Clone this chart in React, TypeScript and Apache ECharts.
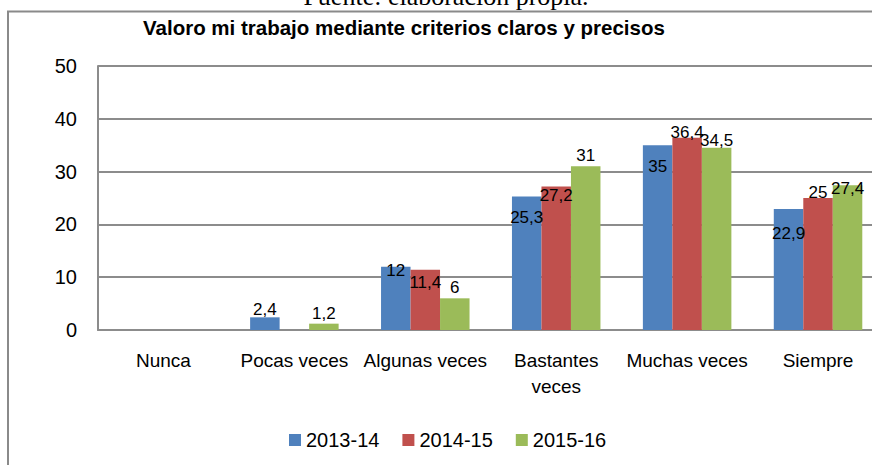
import React, { useEffect, useRef } from "react";
import * as echarts from "echarts";

const categories = ["Nunca", "Pocas veces", "Algunas veces", "Bastantes\nveces", "Muchas veces", "Siempre"];
const seriesNames = ["2013-14", "2014-15", "2015-16"];
const values2013 = [null, 2.4, 12, 25.3, 35, 22.9];
const values2014 = [null, null, 11.4, 27.2, 36.4, 25];
const values2015 = [null, 1.2, 6, 31, 34.5, 27.4];
const yTicks = [0, 10, 20, 30, 40, 50];
const titleText = "Valoro mi trabajo mediante criterios claros y precisos";
const sourceText = "Fuente: elaboración propia.";

// label vertical nudges (style, in px) to mimic the reference label placement
const labelShift2013 = [0, 1, 12, 30, 30, 33];
const labelShift2014 = [0, 0, 21, 18, 3, 3];
const labelShift2015 = [0, -2, -2, -2, 1, 12];

const colors = ["#4F81BD", "#C0504D", "#9BBB59"];
const FONT = "Liberation Sans, Arial, sans-serif";

function buildData(values: (number | null)[], shifts: number[]) {
  return values.map((v, i) => ({
    value: v,
    label: { offset: [0, shifts[i]] },
  }));
}

export default function App() {
  const ref = useRef<HTMLDivElement>(null);
  useEffect(() => {
    if (!ref.current) return;
    const chart = echarts.init(ref.current, null, { renderer: "svg" });
    const fmt = (p: any) => String(p.value).replace(".", ",");
    const allValues = [values2013, values2014, values2015];
    const allShifts = [labelShift2013, labelShift2014, labelShift2015];
    chart.setOption({
      animation: false,
      backgroundColor: "#ffffff",
      title: {
        text: titleText,
        left: 143,
        top: 17,
        padding: 0,
        textStyle: { fontFamily: FONT, fontSize: 20.5, fontWeight: "bold", color: "#000" },
      },
      graphic: [
        {
          type: "rect",
          shape: { x: 8, y: 11.5, width: 2000, height: 2000 },
          style: { fill: "none", stroke: "#8a8a8a", lineWidth: 2 },
          silent: true,
        },
        {
          type: "text",
          x: 446,
          y: 9,
          style: {
            text: sourceText,
            font: "26px 'Liberation Serif', 'Times New Roman', serif",
            fill: "#000",
            textAlign: "center",
            textVerticalAlign: "bottom",
            verticalAlign: "bottom",
          },
          silent: true,
        },
      ],
      legend: {
        data: seriesNames,
        left: 284,
        top: 425,
        itemWidth: 12,
        itemHeight: 12,
        itemGap: 23,
        icon: "rect",
        textStyle: { fontFamily: FONT, fontSize: 20, color: "#000" },
      },
      grid: { left: 98, right: 16.5, top: 66, bottom: 150 },
      xAxis: {
        type: "category",
        data: categories,
        axisLine: { show: true, lineStyle: { color: "#8c8c8c", width: 2 } },
        axisTick: { show: false },
        axisLabel: {
          fontFamily: FONT,
          fontSize: 19,
          color: "#000",
          margin: 17,
          lineHeight: 26,
          interval: 0,
        },
      },
      yAxis: {
        type: "value",
        min: yTicks[0],
        max: yTicks[yTicks.length - 1],
        interval: 10,
        axisLine: { show: true, lineStyle: { color: "#8c8c8c", width: 2 } },
        axisTick: { show: false },
        splitLine: { show: true, lineStyle: { color: "#8c8c8c", width: 2 } },
        axisLabel: { fontFamily: FONT, fontSize: 20, color: "#000", margin: 21 },
      },
      series: seriesNames.map((name, si) => ({
        name,
        type: "bar",
        barWidth: 29.5,
        barGap: "0%",
        itemStyle: { color: colors[si] },
        label: {
          show: true,
          position: "top",
          distance: 0,
          fontFamily: FONT,
          fontSize: 17,
          color: "#000",
          formatter: fmt,
        },
        data: buildData(allValues[si], allShifts[si]),
      })),
    });
    return () => chart.dispose();
  }, []);
  return (
    <div style={{ position: "fixed", left: 0, top: 0, width: 872, height: 465, overflow: "hidden", background: "#fff" }}>
      <div ref={ref} style={{ width: 900, height: 480 }} />
    </div>
  );
}
